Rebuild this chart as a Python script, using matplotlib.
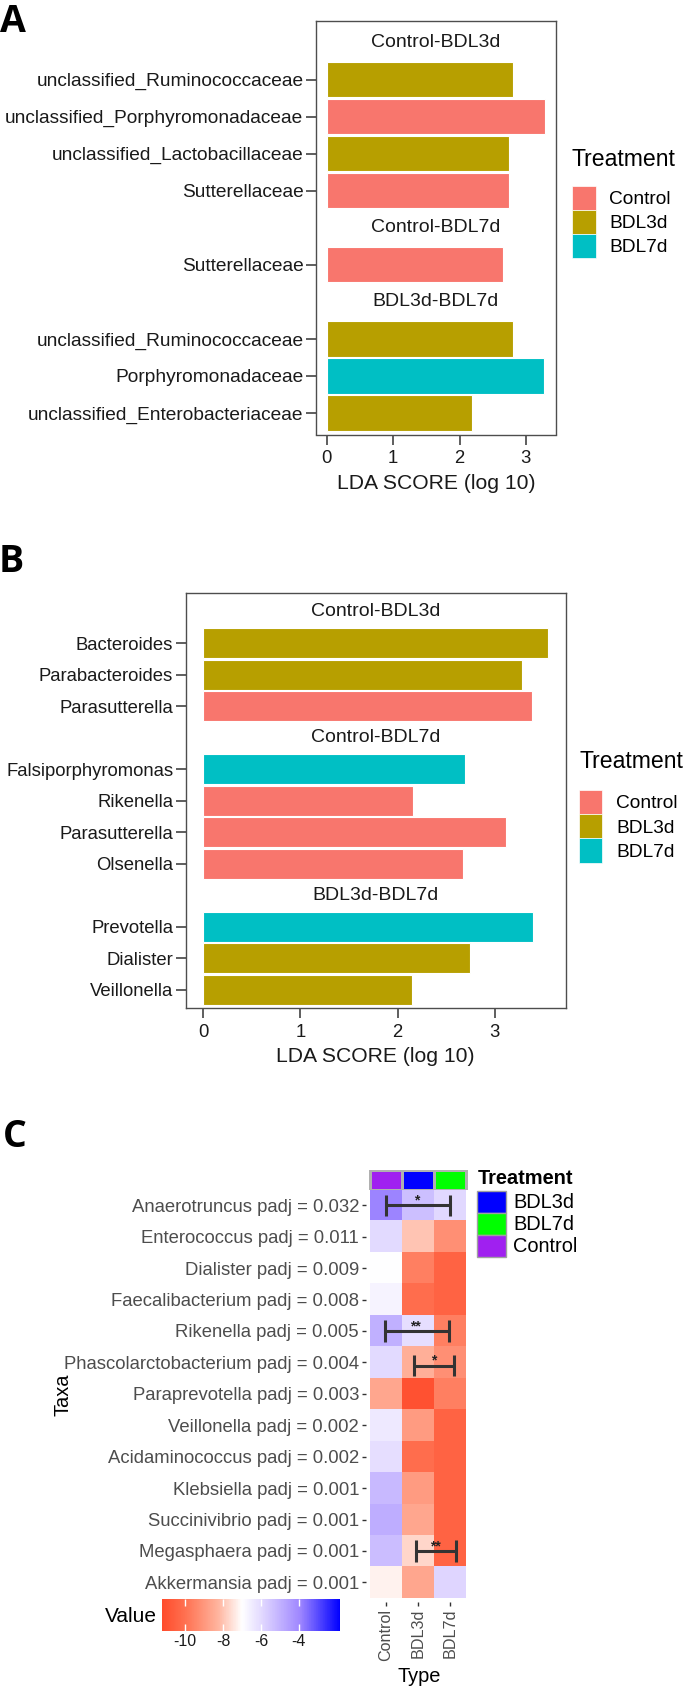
import matplotlib
matplotlib.use('Agg')
import matplotlib.pyplot as plt
import numpy as np
from matplotlib.colors import LinearSegmentedColormap, Normalize, ListedColormap
from matplotlib.patches import Patch

plt.rcParams['font.family'] = ['Liberation Sans', 'DejaVu Sans']
plt.rcParams['axes.unicode_minus'] = False

# figure size in pixels
W, H = 685, 1689

# ---- panel A: LEfSe family level
a_comparisons = ['Control-BDL3d', 'Control-BDL7d', 'BDL3d-BDL7d']
a_comp = [0, 0, 0, 0, 1, 2, 2, 2]
a_taxa = ['unclassified_Ruminococcaceae', 'unclassified_Porphyromonadaceae',
          'unclassified_Lactobacillaceae', 'Sutterellaceae', 'Sutterellaceae',
          'unclassified_Ruminococcaceae', 'Porphyromonadaceae',
          'unclassified_Enterobacteriaceae']
a_scores = [2.80, 3.29, 2.74, 2.74, 2.65, 2.80, 3.27, 2.19]
a_treat = ['BDL3d', 'Control', 'BDL3d', 'Control', 'Control', 'BDL3d', 'BDL7d', 'BDL3d']

# ---- panel B: LEfSe genus level
b_comparisons = ['Control-BDL3d', 'Control-BDL7d', 'BDL3d-BDL7d']
b_comp = [0, 0, 0, 1, 1, 1, 1, 2, 2, 2]
b_taxa = ['Bacteroides', 'Parabacteroides', 'Parasutterella', 'Falsiporphyromonas',
          'Rikenella', 'Parasutterella', 'Olsenella', 'Prevotella', 'Dialister',
          'Veillonella']
b_scores = [3.55, 3.28, 3.38, 2.69, 2.16, 3.11, 2.67, 3.39, 2.74, 2.15]
b_treat = ['BDL3d', 'BDL3d', 'Control', 'BDL7d', 'Control', 'Control', 'Control',
           'BDL7d', 'BDL3d', 'BDL3d']

treatments = ['Control', 'BDL3d', 'BDL7d']
treat_colors = ['#F8766D', '#B79F00', '#00BFC4']

# ---- panel C: heatmap
c_taxa = ['Anaerotruncus', 'Enterococcus', 'Dialister', 'Faecalibacterium', 'Rikenella',
          'Phascolarctobacterium', 'Paraprevotella', 'Veillonella', 'Acidaminococcus',
          'Klebsiella', 'Succinivibrio', 'Megasphaera', 'Akkermansia']
c_padj = ['0.032', '0.011', '0.009', '0.008', '0.005', '0.004', '0.003', '0.002',
          '0.002', '0.001', '0.001', '0.001', '0.001']
c_types = ['Control', 'BDL3d', 'BDL7d']
c_type_colors = ['#A020F0', '#0000FF', '#00FF00']
c_values = [
    [-3.9, -5.35, -5.95],
    [-6.0, -8.0, -9.2],
    [-7.0, -9.6, -10.4],
    [-6.7, -10.1, -10.4],
    [-4.95, -6.1, -9.6],
    [-6.0, -8.4, -9.2],
    [-8.6, -11.0, -9.6],
    [-6.4, -8.9, -10.4],
    [-6.1, -10.1, -10.4],
    [-5.2, -8.9, -10.4],
    [-4.9, -8.6, -10.4],
    [-5.3, -7.7, -10.4],
    [-7.2, -8.6, -5.9],
]
c_legend_order = ['BDL3d', 'BDL7d', 'Control']
# significance brackets
sig_rows = [0, 4, 5, 11]
sig_start = [0.0, -0.02, 0.88, 0.93]
sig_end = [2.0, 1.97, 2.12, 2.2]
sig_dy = [0.0, 0.0, 0.1, 0.0]
sig_label = ['*', '**', '*', '**']
sig_label_x = [0.95, 0.93, 1.49, 1.55]

# colour scale of the heatmap
c_vmin, c_vmax = -11.24, -1.82
c_stop_vals = [-11.24, -9.97, -8.27, -7.0, -5.96, -3.89, -1.82]
c_stop_cols = ['#FF4B2B', '#FF7252', '#FFB49E', '#FFFFFF', '#E2D9FF', '#9D85FF', '#0000FF']


def px_rect(l, t, r, b):
    return [l / W, 1 - b / H, (r - l) / W, (b - t) / H]


def draw_lda(ax, comparisons, comp, taxa, scores, treat, label_fs):
    # one slot per comparison header, then one slot per bar
    y_rows, y_heads = [], []
    slot = 0
    for ci in range(len(comparisons)):
        y_heads.append(slot)
        slot += 1
        for i in range(len(taxa)):
            if comp[i] == ci:
                y_rows.append(slot)
                slot += 1
    colors = [treat_colors[treatments.index(t)] for t in treat]
    ax.barh(y_rows, scores, height=0.95, color=colors, edgecolor='white', linewidth=0.8)
    for name, yh in zip(comparisons, y_heads):
        ax.text(0.5, yh, name, transform=ax.get_yaxis_transform(), ha='center',
                va='center', fontsize=14, color='#1A1A1A')
    pad = 0.05 * max(scores)
    ax.set_xlim(-pad, max(scores) + pad)
    ax.set_ylim(slot - 1 + 0.58, -0.59)
    ax.set_yticks(y_rows, taxa)
    ax.set_xticks([0, 1, 2, 3])
    ax.tick_params(length=7, width=1.1, color='#333333', labelsize=13.3,
                   labelcolor='#1A1A1A')
    ax.tick_params(axis='y', pad=2, labelsize=label_fs)
    ax.tick_params(axis='x', pad=4.5)
    ax.set_xlabel('LDA SCORE (log 10)', fontsize=15.2, labelpad=4.5, color='#1A1A1A')
    for s in ax.spines.values():
        s.set_color('#4D4D4D')
        s.set_linewidth(1.0)


def lda_legend(fig, left, top, kw, kh, gap, title_y):
    handles = [Patch(facecolor=c, edgecolor='white', linewidth=0.5) for c in treat_colors]
    fs_px = 13.8 * 100 / 72
    fig.legend(handles, treatments, loc='upper left', bbox_to_anchor=(left / W, 1 - top / H),
               frameon=False, borderpad=0, borderaxespad=0, fontsize=13.8,
               handlelength=kw / fs_px, handleheight=kh / fs_px, labelspacing=0,
               handletextpad=gap / fs_px)
    fig.text(left / W, 1 - title_y / H, 'Treatment', fontsize=16.6, va='center', ha='left')


fig = plt.figure(figsize=(W / 100, H / 100), dpi=100)

# panel letters
for letter, x, y in [('A', 0, 31.5), ('B', -1, 572), ('C', 3, 1147)]:
    fig.text(x / W, 1 - y / H, letter, fontsize=27, fontweight='bold',
             family=['Open Sans', 'DejaVu Sans'], va='baseline', ha='left')

# ---- A
ax_a = fig.add_axes(px_rect(316, 20.6, 556, 434.5))
draw_lda(ax_a, a_comparisons, a_comp, a_taxa, a_scores, a_treat, 13.8)
lda_legend(fig, 572, 186, 24, 29.5, 13, 159)

# ---- B
ax_b = fig.add_axes(px_rect(185.7, 593, 565.7, 1008))
draw_lda(ax_b, b_comparisons, b_comp, b_taxa, b_scores, b_treat, 13.3)
lda_legend(fig, 579, 790, 23, 30, 14, 762)

# ---- C
cmap = LinearSegmentedColormap.from_list(
    'rwb', [((v - c_vmin) / (c_vmax - c_vmin), c) for v, c in zip(c_stop_vals, c_stop_cols)])
norm = Normalize(vmin=c_vmin, vmax=c_vmax)

ax_h = fig.add_axes(px_rect(366, 1189.5, 470, 1602))
im = ax_h.imshow(np.array(c_values), cmap=cmap, norm=norm, aspect='auto',
                 interpolation='nearest')
ax_h.set_xlim(-0.625, 2.625)
ax_h.set_ylim(12.625, -0.5)
for s in ax_h.spines.values():
    s.set_visible(False)
ax_h.set_yticks(range(len(c_taxa)), [f'{t} padj = {p}' for t, p in zip(c_taxa, c_padj)])
ax_h.set_xticks(range(len(c_types)), c_types, rotation=90)
ax_h.tick_params(length=3, width=1, color='#333333', pad=2, labelcolor='#4D4D4D')
ax_h.tick_params(axis='y', labelsize=13.3)
ax_h.tick_params(axis='x', labelsize=11.6)

for r, x0, x1, dy, lab, lx in zip(sig_rows, sig_start, sig_end, sig_dy, sig_label, sig_label_x):
    y = r + dy
    ax_h.hlines(y, x0, x1, color='#333333', lw=2.2)
    ax_h.vlines([x0, x1], y - 0.34, y + 0.34, color='#333333', lw=2.2)
    ax_h.text(lx, y - 0.03, lab, ha='center', va='baseline', fontsize=10,
              fontweight='bold', color='#222222')

# treatment strip above the heatmap
ax_s = fig.add_axes(px_rect(366, 1170, 470, 1189.5))
ax_s.pcolormesh(np.arange(len(c_types) + 1) - 0.5, [-0.5, 0.5], [list(range(len(c_types)))],
                cmap=ListedColormap(c_type_colors), edgecolors='#B0B0B0', linewidth=0.8)
ax_s.set_xlim(-0.625, 2.625)
ax_s.set_ylim(0.5, -0.5)
ax_s.axis('off')

fig.text(63 / W, 1 - 1394.6 / H, 'Taxa', rotation=90, ha='center', va='center', fontsize=14.4)
fig.text(419 / W, 1 - 1677 / H, 'Type', ha='center', va='center', fontsize=14.4)

# treatment legend
c_handles = [Patch(facecolor=c_type_colors[c_types.index(t)], edgecolor='#A0A0A0', linewidth=1)
             for t in c_legend_order]
fs_c = 14.4 * 100 / 72
fig.legend(c_handles, c_legend_order, loc='upper left', bbox_to_anchor=(477 / W, 1 - 1190.7 / H),
           frameon=False, borderpad=0, borderaxespad=0, fontsize=14.4,
           handlelength=29 / fs_c, handleheight=26.3 / fs_c, labelspacing=0,
           handletextpad=7 / fs_c)
fig.text(478 / W, 1 - 1178 / H, 'Treatment', fontsize=14.4, fontweight='bold',
         va='center', ha='left')

# colour bar
cax = fig.add_axes(px_rect(161.7, 1599, 340, 1631))
cb = fig.colorbar(im, cax=cax, orientation='horizontal')
cb.set_ticks([-10, -8, -6, -4])
cb.outline.set_visible(False)
cax.tick_params(axis='x', direction='in', length=5, width=1, color='white',
                labelsize=11.5, pad=2, top=True, labelcolor='#1A1A1A')
fig.text(157 / W, 1 - 1616 / H, 'Value', ha='right', va='center', fontsize=15)

fig.savefig('out.png', dpi=100)
